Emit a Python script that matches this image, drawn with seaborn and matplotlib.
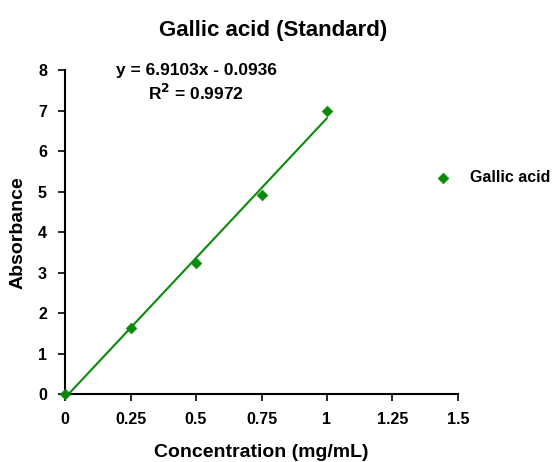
import numpy as np
import pandas as pd
import seaborn as sns
import matplotlib
matplotlib.use("Agg")
import matplotlib.pyplot as plt

# datos
conc = [0, 0.25, 0.5, 0.75, 1.0]
absorb = [0.0, 1.63, 3.25, 4.92, 7.0]
slope = 6.9103
intercept = -0.0936
r2 = 0.9972
xticks = [0, 0.25, 0.5, 0.75, 1, 1.25, 1.5]
xlabels = ["0", "0.25", "0.5", "0.75", "1", "1.25", "1.5"]
yticks = [0, 1, 2, 3, 4, 5, 6, 7, 8]

df = pd.DataFrame({"Concentration": conc, "Absorbance": absorb})
fit_x = np.array([min(conc), max(conc)])
fit = pd.DataFrame({"x": fit_x, "y": slope * fit_x + intercept})

sns.set_style("white")
plt.rcParams["font.family"] = ["Liberation Sans", "DejaVu Sans"]
plt.rcParams["font.weight"] = "bold"
plt.rcParams["text.color"] = "black"
plt.rcParams["axes.labelcolor"] = "black"
plt.rcParams["xtick.color"] = "black"
plt.rcParams["ytick.color"] = "black"

green = "#0a8a0a"
fig = plt.figure(figsize=(5.59, 4.62), dpi=100)
ax = fig.add_axes([0.1163, 0.147, 0.703, 0.701])

sns.lineplot(data=fit, x="x", y="y", ax=ax, color=green, linewidth=1.5)
sns.scatterplot(data=df, x="Concentration", y="Absorbance", ax=ax, marker="D",
                color=green, s=30, edgecolor=green, label="Gallic acid", zorder=5,
                clip_on=False)

ax.set_xlim(0, 1.5)
ax.set_ylim(0, 8)
ax.set_xticks(xticks)
ax.set_xticklabels(xlabels)
ax.set_yticks(yticks)
ax.tick_params(axis="both", direction="out", length=5, width=1.2, labelsize=11.5,
               bottom=True, left=True, pad=8)
for lab in ax.get_xticklabels() + ax.get_yticklabels():
    lab.set_fontweight("bold")
sns.despine(ax=ax)
for s in ["left", "bottom"]:
    ax.spines[s].set_color("black")
    ax.spines[s].set_linewidth(1.5)

ax.set_xlabel("Concentration (mg/mL)", fontsize=14, fontweight="bold", labelpad=12)
ax.set_ylabel("Absorbance", fontsize=14, fontweight="bold", labelpad=8)
fig.text(0.488, 0.935, "Gallic acid (Standard)", ha="center", va="center",
         fontsize=16, fontweight="bold")

ax.text(0.5, 8.0, f"y = {slope}x - {abs(intercept)}", ha="center", va="center",
        fontsize=12.5, fontweight="bold")
ax.text(0.5, 7.43, f"R$^\\mathbf{{2}}$ = {r2}", ha="center", va="center",
        fontsize=12.5, fontweight="bold")

ax.legend(loc="center left", bbox_to_anchor=(0.75, 0.615), bbox_transform=fig.transFigure,
          frameon=False, prop={"weight": "bold", "size": 11.5},
          handletextpad=1.1, handlelength=1.2, markerscale=1.0)

fig.savefig("out.png", dpi=100)
